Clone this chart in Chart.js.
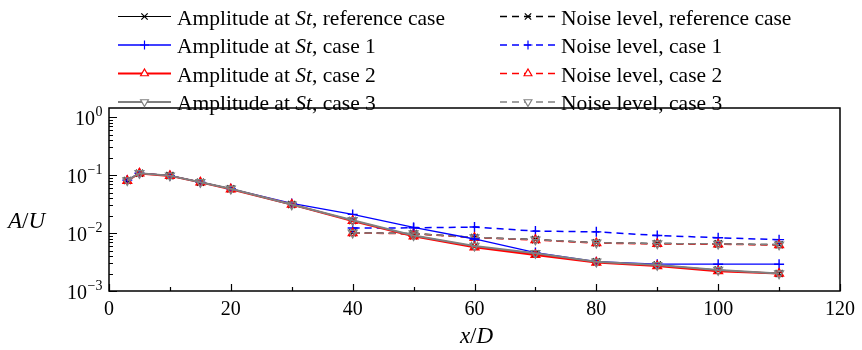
<!DOCTYPE html>
<html>
<head>
<meta charset="utf-8">
<script src="https://cdn.jsdelivr.net/npm/chart.js@4.4.0/dist/chart.umd.min.js"></script>
<style>
  html, body { margin: 0; padding: 0; background: #fff; }
  canvas { display: block; }
</style>
</head>
<body>
<canvas id="chart" width="862" height="350"></canvas>
<script>
// x/D stations
const xAmp = [3, 5, 10, 15, 20, 30, 40, 50, 60, 70, 80, 90, 100, 110];
const xNoise = [40, 50, 60, 70, 80, 90, 100, 110];

// amplitude at St (A/U)
const ampRef = [0.081, 0.108, 0.098, 0.0755, 0.058, 0.031, 0.0165, 0.0090, 0.0059, 0.0044, 0.0032, 0.0028, 0.0023, 0.0020];
const ampCase1 = [0.082, 0.108, 0.098, 0.0755, 0.058, 0.0325, 0.021, 0.0125, 0.0079, 0.0046, 0.0032, 0.0029, 0.0029, 0.0029];
const ampCase2 = [0.080, 0.107, 0.097, 0.075, 0.057, 0.031, 0.0162, 0.0088, 0.0057, 0.0042, 0.0031, 0.0027, 0.0022, 0.0020];
const ampCase3 = [0.081, 0.108, 0.098, 0.0755, 0.058, 0.031, 0.0166, 0.0091, 0.0060, 0.0045, 0.0032, 0.0028, 0.0023, 0.0020];

// noise level
const noiseRef = [0.0101, 0.0098, 0.0084, 0.0077, 0.0068, 0.0066, 0.0065, 0.0063];
const noiseCase1 = [0.0122, 0.0123, 0.0127, 0.0108, 0.0105, 0.0091, 0.0083, 0.0077];
const noiseCase2 = [0.0100, 0.0097, 0.0083, 0.0076, 0.0067, 0.0065, 0.0064, 0.0062];
const noiseCase3 = [0.0101, 0.0098, 0.0084, 0.0077, 0.0068, 0.0066, 0.0065, 0.0063];

const caseNames = ['reference case', 'case 1', 'case 2', 'case 3'];
const xTicks = [0, 20, 40, 60, 80, 100, 120];
const yDecades = [-3, -2, -1, 0];

const SERIF = '"Liberation Serif", "Times New Roman", serif';

// styles per case: colour, marker, rotation, line width
const caseStyles = [
    { color: '#000000', point: 'crossRot', rot: 0, width: 1.2 },
    { color: '#0000ff', point: 'cross', rot: 0, width: 1.3 },
    { color: '#ff0000', point: 'triangle', rot: 0, width: 2 },
    { color: '#808080', point: 'triangle', rot: 180, width: 2 }
];
const DASH = [7, 5];

function toPoints(xs, ys) {
    return xs.map((x, i) => ({ x: x, y: ys[i] }));
}

function makeSet(xs, ys, idx, dashed, order) {
    const s = caseStyles[idx];
    return {
        data: toPoints(xs, ys),
        borderColor: s.color,
        borderWidth: dashed ? 1.5 : s.width,
        borderDash: dashed ? DASH : [],
        pointStyle: s.point,
        pointRotation: s.rot,
        pointRadius: 5,
        pointBorderWidth: 1.4,
        pointBorderColor: s.color,
        pointBackgroundColor: 'rgba(255,255,255,0)',
        fill: false,
        tension: 0,
        order: order
    };
}

const ampSeries = [ampRef, ampCase1, ampCase2, ampCase3];
const noiseSeries = [noiseRef, noiseCase1, noiseCase2, noiseCase3];

const datasets = [];
ampSeries.forEach((ys, i) => datasets.push(makeSet(xAmp, ys, i, false, 3 - i)));
noiseSeries.forEach((ys, i) => datasets.push(makeSet(xNoise, ys, i, true, 7 - i)));

// draw a legend marker in the same shapes the chart uses
function drawMarker(ctx, s, x, y, r) {
    ctx.save();
    ctx.setLineDash([]);
    ctx.strokeStyle = s.color;
    ctx.lineWidth = 1.2;
    ctx.fillStyle = '#fff';
    ctx.beginPath();
    if (s.point === 'crossRot') {
        const d = r * Math.SQRT1_2;
        ctx.moveTo(x - d, y - d); ctx.lineTo(x + d, y + d);
        ctx.moveTo(x - d, y + d); ctx.lineTo(x + d, y - d);
        ctx.stroke();
    } else if (s.point === 'cross') {
        ctx.moveTo(x - r, y); ctx.lineTo(x + r, y);
        ctx.moveTo(x, y - r); ctx.lineTo(x, y + r);
        ctx.stroke();
    } else {
        const sgn = s.rot === 180 ? -1 : 1;
        const h = r * Math.sin(Math.PI / 3);
        ctx.moveTo(x, y - sgn * r);
        ctx.lineTo(x + h, y + sgn * r / 2);
        ctx.lineTo(x - h, y + sgn * r / 2);
        ctx.closePath();
        ctx.fill();
        ctx.stroke();
    }
    ctx.restore();
}

// draw text made of [string, italic] pieces
function drawPieces(ctx, pieces, x, y, size) {
    let cx = x;
    pieces.forEach(p => {
        ctx.font = (p[1] ? 'italic ' : '') + size + 'px ' + SERIF;
        ctx.fillText(p[0], cx, y);
        cx += ctx.measureText(p[0]).width;
    });
    return cx - x;
}

function piecesWidth(ctx, pieces, size) {
    let w = 0;
    pieces.forEach(p => {
        ctx.font = (p[1] ? 'italic ' : '') + size + 'px ' + SERIF;
        w += ctx.measureText(p[0]).width;
    });
    return w;
}

const decorPlugin = {
    id: 'decor',
    afterDraw(chart) {
        const ctx = chart.ctx;
        const a = chart.chartArea;
        const xs = chart.scales.x;
        const ys = chart.scales.y;
        ctx.save();
        ctx.fillStyle = '#000';
        ctx.strokeStyle = '#000';

        // frame
        ctx.lineWidth = 1.5;
        ctx.strokeRect(a.left, a.top, a.right - a.left, a.bottom - a.top);

        // inward x ticks
        ctx.lineWidth = 1.2;
        ctx.beginPath();
        for (let v = 0; v <= 120; v += 10) {
            const px = Math.round(xs.getPixelForValue(v)) + 0.5;
            const len = v % 20 === 0 ? 7 : 4;
            ctx.moveTo(px, a.bottom);
            ctx.lineTo(px, a.bottom - len);
        }
        // inward y ticks, major and minor
        yDecades.forEach(e => {
            for (let m = 1; m <= 9; m++) {
                const v = m * Math.pow(10, e);
                if (v < ys.min || v > ys.max) continue;
                const py = Math.round(ys.getPixelForValue(v)) + 0.5;
                const len = m === 1 ? 8 : 4;
                ctx.moveTo(a.left, py);
                ctx.lineTo(a.left + len, py);
            }
        });
        ctx.stroke();

        // y tick labels 10^n
        ctx.textBaseline = 'alphabetic';
        ctx.textAlign = 'left';
        yDecades.forEach(e => {
            const py = ys.getPixelForValue(Math.pow(10, e));
            const sup = e === 0 ? '0' : '\u2212' + (-e);
            ctx.font = '14px ' + SERIF;
            const w2 = ctx.measureText(sup).width;
            ctx.font = '20px ' + SERIF;
            const w1 = ctx.measureText('10').width;
            const x0 = 102 - w1 - w2;
            ctx.fillText('10', x0, py + 8);
            ctx.font = '14px ' + SERIF;
            ctx.fillText(sup, x0 + w1 + 0.5, py - 1);
        });

        // axis titles
        const xt = [['x', true], ['/', false], ['D', true]];
        const xw = piecesWidth(ctx, xt, 23);
        drawPieces(ctx, xt, (a.left + a.right) / 2 - xw / 2 + 2, 343, 23);
        drawPieces(ctx, [['A', true], ['/', false], ['U', true]], 8, 228, 23);

        // legend, two columns
        const rowY = [16.5, 45, 73.5, 102];
        const lf = 21.5;
        caseNames.forEach((name, i) => {
            const s = caseStyles[i];
            const y = rowY[i];
            // amplitude column
            ctx.save();
            ctx.strokeStyle = s.color;
            ctx.lineWidth = s.width;
            ctx.beginPath();
            ctx.moveTo(118, y); ctx.lineTo(171, y);
            ctx.stroke();
            ctx.restore();
            drawMarker(ctx, s, 144.5, y, 4.5);
            ctx.fillStyle = '#000';
            drawPieces(ctx, [['Amplitude at ', false], ['St', true], [', ' + name, false]], 177, y + 8, lf);
            // noise column
            ctx.save();
            ctx.strokeStyle = s.color;
            ctx.lineWidth = 1.5;
            ctx.setLineDash(DASH);
            ctx.beginPath();
            ctx.moveTo(500, y); ctx.lineTo(556, y);
            ctx.stroke();
            ctx.restore();
            drawMarker(ctx, s, 528, y, 4.5);
            ctx.fillStyle = '#000';
            drawPieces(ctx, [['Noise level, ' + name, false]], 561, y + 8, lf);
        });
        ctx.restore();
    }
};

new Chart(document.getElementById('chart'), {
    type: 'line',
    data: { datasets: datasets },
    options: {
        responsive: false,
        animation: false,
        devicePixelRatio: 1,
        layout: { padding: { top: 108, right: 19, left: 0, bottom: 0 } },
        plugins: {
            legend: { display: false },
            tooltip: { enabled: false }
        },
        scales: {
            x: {
                type: 'linear',
                min: 0,
                max: 120,
                afterBuildTicks: scale => {
                    scale.ticks = xTicks.map(v => ({ value: v }));
                },
                afterFit: scale => { scale.height = 59; },
                grid: { display: false, drawTicks: false },
                border: { display: false },
                ticks: {
                    color: '#000',
                    padding: 7,
                    maxRotation: 0,
                    autoSkip: false,
                    font: { family: SERIF, size: 20 }
                }
            },
            y: {
                type: 'logarithmic',
                min: 1e-3,
                max: 1.44,
                afterFit: scale => { scale.width = 109; },
                grid: { display: false, drawTicks: false },
                border: { display: false },
                ticks: { display: false }
            }
        }
    },
    plugins: [decorPlugin]
});
</script>
</body>
</html>
